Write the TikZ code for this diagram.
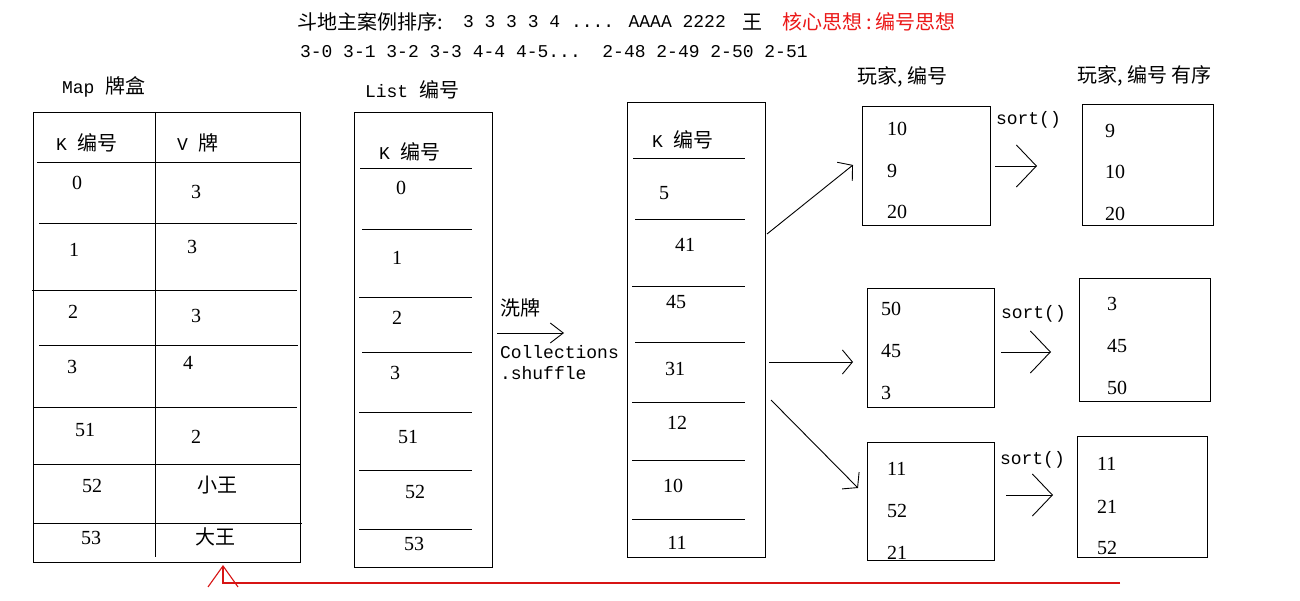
\documentclass[tikz,border=0pt]{standalone}
\usepackage{fontspec}
\setmainfont{Liberation Serif}
\newfontfamily\zhfont{Noto Sans CJK SC}
\newfontfamily\monofont{Liberation Mono}
\usetikzlibrary{arrows.meta}
\definecolor{redline}{RGB}{215,20,20}
\definecolor{redtext}{RGB}{235,25,25}
\newcommand\ZH[1]{{\zhfont\fontsize{20}{24}\selectfont #1}}
\newcommand\MO[1]{{\monofont\fontsize{18}{22}\selectfont #1}}
\begin{document}
\begin{tikzpicture}[x=1pt,y=-1pt,
  box/.style={draw=black,line width=1pt,inner sep=0,outer sep=0,anchor=north west},
  rule/.style={line width=1pt},
  txt/.style={inner sep=0,outer sep=0},
  lt/.style={txt,anchor=west},
  num/.style={txt,font=\fontsize{20}{24}\selectfont},
  lnum/.style={num,anchor=west},
  conn/.style={line width=0.9pt},
  bigtip/.style={conn,-{Straight Barb[length=20pt,width=42pt]}},
  midtip/.style={conn,-{Straight Barb[length=10pt,width=24pt]}},
  smalltip/.style={conn,-{Straight Barb[length=13pt,width=20pt]}},
  redarr/.style={line width=1.1pt,draw=redline,-{Straight Barb[length=21pt,width=30pt]}}
]
\path[use as bounding box, fill=white] (0,0) rectangle (1300,601);

% title lines
\node[lt] (t1a) at (297,22) {\ZH{斗地主案例排序:}};
\node[lt] (t1b) at (463,22) {\MO{3 3 3 3 4 .... AAAA 2222}};
\node[lt] (t1c) at (742,22) {\ZH{王}};
\node[lt,text=redtext] (t1d) at (782,22) {\ZH{核心思想\hspace{4pt}:\hspace{4pt}编号思想}};
\node[lt] (t2) at (300,52) {\MO{3-0 3-1 3-2 3-3 4-4 4-5...~~2-48 2-49 2-50 2-51}};

% Map table
\node[lt] (maplbl) at (62,87) {\MO{Map }\ZH{牌盒}};
\node[box,minimum width=267,minimum height=449] (map) at (33,113) {};
\draw[rule] (155,112) -- (155,557);
\foreach \yy/\aa/\bb in {163/37/300, 224/39/297, 291/32/297, 345/39/298, 407/33/297, 464/33/300, 523/33/302}
  \draw[rule] (\aa,\yy) -- (\bb,\yy);
\node[lt] (mk) at (56,143) {\MO{K }\ZH{编号}};
\node[lt] (mv) at (177,143) {\MO{V }\ZH{牌}};
\node[num] (mk0) at (77,183) {0};  \node[num] (mv0) at (196,192) {3};
\node[num] (mk1) at (74,250) {1};  \node[num] (mv1) at (192,247) {3};
\node[num] (mk2) at (73,312) {2};  \node[num] (mv2) at (196,316) {3};
\node[num] (mk3) at (72,367) {3};  \node[num] (mv3) at (188,363) {4};
\node[num] (mk4) at (85,430) {51}; \node[num] (mv4) at (196,437) {2};
\node[num] (mk5) at (92,486) {52}; \node[txt] (mv5) at (217,485) {\ZH{小王}};
\node[num] (mk6) at (91,538) {53}; \node[txt] (mv6) at (215,537) {\ZH{大王}};

% List table
\node[lt] (listlbl) at (365,90) {\MO{List }\ZH{编号}};
\node[box,minimum width=138,minimum height=454] (list) at (354,113) {};
\foreach \yy/\aa in {169/360, 230/362, 298/359, 352/362, 412/359, 470/359, 529/359}
  \draw[rule] (\aa,\yy) -- (472,\yy);
\node[lt] (lk) at (379,152) {\MO{K }\ZH{编号}};
\node[num] (l0) at (401,188) {0};
\node[num] (l1) at (397,258) {1};
\node[num] (l2) at (397,318) {2};
\node[num] (l3) at (395,373) {3};
\node[num] (l4) at (408,437) {51};
\node[num] (l5) at (415,492) {52};
\node[num] (l6) at (414,544) {53};

% shuffle
\node[lt] (xp) at (500,308) {\ZH{洗牌}};
\node[lt] (cs1) at (500,352) {\MO{Collections}};
\node[lt] (cs2) at (500,373) {\MO{.shuffle}};
\coordinate (shA) at (497,333);
\coordinate (shB) at (564,333);
\draw[smalltip] (shA) -- (shB);

% shuffled table
\node[box,minimum width=138,minimum height=454] (shuf) at (627,103) {};
\foreach \yy/\aa in {159/633, 220/635, 287/632, 342/635, 402/632, 460/632, 519/632}
  \draw[rule] (\aa,\yy) -- (745,\yy);
\node[lt] (sk) at (652,140) {\MO{K }\ZH{编号}};
\node[num] (s0) at (664,193) {5};
\node[num] (s1) at (685,245) {41};
\node[num] (s2) at (676,302) {45};
\node[num] (s3) at (675,369) {31};
\node[num] (s4) at (677,423) {12};
\node[num] (s5) at (673,486) {10};
\node[num] (s6) at (677,543) {11};

% players
\node[lt] (plbl) at (857,77) {\ZH{玩家, 编号}};
\node[lt] (slbl) at (1077,76) {\ZH{玩家, 编号 有序}};

\node[box,minimum width=128,minimum height=119] (p1) at (862,107) {};
\node[lnum] at (887,129) {10};
\node[lnum] at (887,171) {9};
\node[lnum] at (887,212) {20};
\node[box,minimum width=131,minimum height=121] (q1) at (1082,105) {};
\node[lnum] at (1105,131) {9};
\node[lnum] at (1105,172) {10};
\node[lnum] at (1105,214) {20};

\node[box,minimum width=127,minimum height=118] (p2) at (867,289) {};
\node[lnum] at (881,309) {50};
\node[lnum] at (881,351) {45};
\node[lnum] at (881,393) {3};
\node[box,minimum width=131,minimum height=122] (q2) at (1079,279) {};
\node[lnum] at (1107,304) {3};
\node[lnum] at (1107,346) {45};
\node[lnum] at (1107,388) {50};

\node[box,minimum width=127,minimum height=118] (p3) at (867,442) {};
\node[lnum] at (887,469) {11};
\node[lnum] at (887,511) {52};
\node[lnum] at (887,553) {21};
\node[box,minimum width=130,minimum height=121] (q3) at (1077,436) {};
\node[lnum] at (1097,464) {11};
\node[lnum] at (1097,507) {21};
\node[lnum] at (1097,548) {52};

% sort labels
\node[lt] (so1) at (996,120) {\MO{sort()}};
\node[lt] (so2) at (1001,314) {\MO{sort()}};
\node[lt] (so3) at (1000,460) {\MO{sort()}};

% deal arrows
\coordinate (d1a) at (767,234); \coordinate (d1b) at (853,165);
\coordinate (d2a) at (769,362); \coordinate (d2b) at (853,362);
\coordinate (d3a) at (771,400); \coordinate (d3b) at (858,488);
\draw[midtip] (d1a) -- (d1b);
\draw[midtip] (d2a) -- (d2b);
\draw[midtip] (d3a) -- (d3b);

% sort arrows
\coordinate (r1a) at (995,166);  \coordinate (r1b) at (1037,166);
\coordinate (r2a) at (1001,352); \coordinate (r2b) at (1051,352);
\coordinate (r3a) at (1006,495); \coordinate (r3b) at (1053,495);
\draw[bigtip] (r1a) -- (r1b);
\draw[bigtip] (r2a) -- (r2b);
\draw[bigtip] (r3a) -- (r3b);

% red return arrow
\coordinate (rs) at (1120,583);
\coordinate (rc) at (223,583);
\coordinate (re) at (223,565);
\draw[redarr] (rs) -- (rc) -- (re);
\end{tikzpicture}
\end{document}
